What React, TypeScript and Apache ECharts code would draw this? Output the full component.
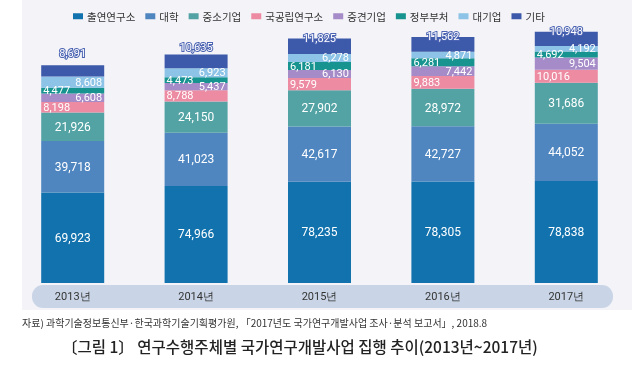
import React, { useEffect, useRef } from "react";
import * as echarts from "echarts";

const years = ["2013년", "2014년", "2015년", "2016년", "2017년"];
const seriesNames = ["출연연구소", "대학", "중소기업", "국공립연구소", "중견기업", "정부부처", "대기업", "기타"];
const chulyeon = [69923, 74966, 78235, 78305, 78838];
const daehak = [39718, 41023, 42617, 42727, 44052];
const jungso = [21926, 24150, 27902, 28972, 31686];
const gukgongrip = [8198, 8788, 9579, 9883, 10016];
const junggyeon = [6608, 5437, 6130, 7442, 9504];
const jeongbu = [4477, 4473, 6181, 6281, 4692];
const daegieop = [8608, 6923, 6278, 4871, 4192];
const gita = [8691, 10635, 11825, 11562, 10948];

const colors = ["#1272ad", "#4f86c0", "#53a3a4", "#ec8ba2", "#a58bc7", "#17948f", "#8dc3e6", "#3c5aa9"];
const NUM_FONT = "Roboto, 'Liberation Sans', sans-serif";
const KR_FONT = "'Noto Sans CJK KR', sans-serif";

export default function App() {
  const ref = useRef<HTMLDivElement>(null);
  useEffect(() => {
    if (!ref.current) return;
    const chart = echarts.init(ref.current, null, { renderer: "svg" });
    const values = [chulyeon, daehak, jungso, gukgongrip, junggyeon, jeongbu, daegieop, gita];
    const positions = ["inside", "inside", "inside", "insideLeft", "insideRight", "insideLeft", "insideRight", "top"];
    const topDist = [6, 2, -5, -5, -5];
    const fmt = (p: any) => Number(p.value).toLocaleString("en-US");
    const series = values.map((vals, i) => {
      const isTop = i === 7;
      return {
        name: seriesNames[i],
        type: "bar",
        stack: "total",
        barWidth: 63,
        itemStyle: { color: colors[i] },
        data: vals.map((v, j) =>
          isTop ? { value: v, label: { distance: topDist[j] } } : { value: v }
        ),
        label: {
          show: true,
          position: positions[i],
          distance: 2,
          formatter: fmt,
          color: "#ffffff",
          fontFamily: NUM_FONT,
          fontSize: i < 3 ? 12 : 11,
          ...(isTop ? { textBorderColor: "#4b63b2", textBorderWidth: 2 } : {}),
        },
      };
    });
    chart.setOption({
      animation: false,
      legend: {
        left: 68,
        top: 6,
        itemWidth: 10,
        itemHeight: 6,
        itemGap: 10,
        icon: "rect",
        textStyle: { fontFamily: KR_FONT, fontSize: 10.5, color: "#333", padding: [0, 0, 0, -1] },
        data: seriesNames,
      },
      grid: { left: 11, right: 12, top: 24, bottom: 84 },
      xAxis: {
        type: "category",
        data: years,
        axisLine: { show: false },
        axisTick: { show: false },
        axisLabel: { margin: 8, fontFamily: NUM_FONT, fontSize: 11, color: "#333" },
      },
      yAxis: { type: "value", min: 0, max: 200000, show: false, splitLine: { show: false } },
      graphic: [
        { type: "rect", z: -10, shape: { x: 22, y: 0, width: 610, height: 310 }, style: { fill: "#f3f3f8" } },
        { type: "rect", z: -5, shape: { x: 32, y: 285, width: 581, height: 23, r: 11 }, style: { fill: "#c9d5e6" } },
        {
          type: "text",
          left: 22,
          top: 317,
          style: {
            text: "자료) 과학기술정보통신부·한국과학기술기획평가원, 「2017년도 국가연구개발사업 조사·분석 보고서」, 2018.8",
            fontFamily: KR_FONT,
            fontSize: 10,
            fill: "#333",
          },
        },
        {
          type: "text",
          left: 62,
          top: 338,
          style: {
            text: "〔그림 1〕 연구수행주체별 국가연구개발사업 집행 추이(2013년~2017년)",
            fontFamily: KR_FONT,
            fontSize: 15.5,
            fontWeight: 500,
            fill: "#222",
          },
        },
      ],
      series,
    });
    return () => chart.dispose();
  }, []);
  return <div ref={ref} style={{ position: "fixed", left: 0, top: 0, width: 640, height: 367 }} />;
}
